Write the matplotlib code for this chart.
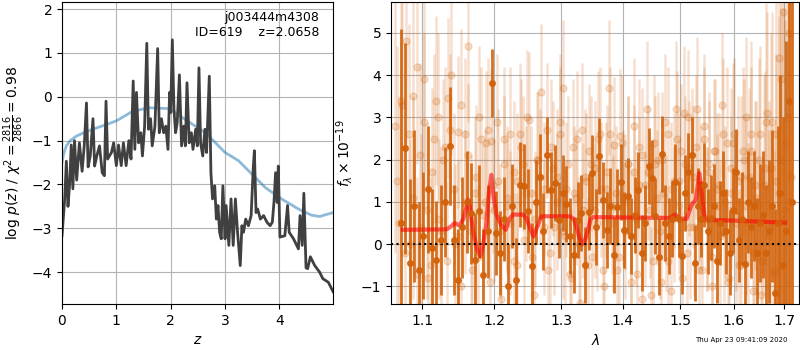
import numpy as np
import matplotlib.pyplot as plt
from matplotlib.ticker import FixedLocator, FormatStrFormatter, NullLocator

# p(z) from the redshift fit
z_grid = [0.0, 0.05, 0.08, 0.11, 0.14, 0.17, 0.2, 0.23, 0.27, 0.32, 0.37, 0.41, 0.45, 0.48,
          0.52, 0.57, 0.6, 0.64, 0.69, 0.74, 0.78, 0.81, 0.84, 0.91, 0.95, 1.0, 1.04, 1.09,
          1.13, 1.18, 1.23, 1.27, 1.31, 1.34, 1.37, 1.41, 1.45, 1.48, 1.52, 1.56, 1.59, 1.63,
          1.66, 1.71, 1.76, 1.79, 1.83, 1.87, 1.91, 1.95, 1.98, 2.0, 2.03, 2.06, 2.09, 2.12,
          2.16, 2.2, 2.24, 2.27, 2.3, 2.34, 2.38, 2.41, 2.46, 2.49, 2.52, 2.55, 2.59, 2.63,
          2.66, 2.71, 2.74, 2.77, 2.81, 2.84, 2.87, 2.9, 2.93, 2.96, 3.0, 3.02, 3.07, 3.11,
          3.15, 3.19, 3.23, 3.28, 3.31, 3.34, 3.38, 3.43, 3.48, 3.52, 3.54, 3.57, 3.6, 3.65,
          3.71, 3.77, 3.83, 3.87, 3.9, 3.93, 3.96, 3.98, 4.01, 4.1, 4.15, 4.18, 4.26, 4.35,
          4.38, 4.42, 4.45, 4.49, 4.52, 4.57, 4.65, 4.74, 4.8, 4.9, 4.99]
logpz = [-3.17, -2.33, -1.47, -2.5, -2.0, -1.1, -2.1, -1.0, -1.9, -1.05, -1.7, -1.1, -0.14, -1.6,
         -1.35, -0.5, -1.58, -1.35, -1.12, -1.73, -1.8, -0.1, -1.42, -1.27, -1.05, -1.57, -1.1, -1.57,
         -1.05, -1.57, -1.0, -1.42, 0.36, -1.2, 0.1, -1.05, -0.82, -1.35, -0.67, 1.22, -0.74, -0.5,
         -1.12, -0.67, 1.1, -0.82, -0.5, -0.82, -0.67, -1.2, 0.1, -0.36, 1.3, -0.29, -0.82, -0.59,
         0.5, -1.12, -0.67, -1.12, 0.32, -1.05, -0.82, -1.2, -0.74, -1.12, 0.66, -1.05, -1.35, -0.74,
         -1.27, 0.47, -1.73, -2.33, -2.03, -2.79, -2.48, -3.09, -3.24, -2.03, -3.24, -2.48, -3.39, -2.33,
         -3.39, -2.33, -3.09, -3.85, -2.94, -3.09, -2.79, -2.94, -2.71, -1.6, -1.23, -2.64, -2.56, -2.79,
         -2.71, -2.86, -2.94, -2.86, -2.41, -1.73, -2.41, -1.58, -3.2, -3.17, -2.48, -3.09, -3.24, -3.47,
         -2.71, -3.39, -2.2, -3.9, -3.92, -3.65, -3.85, -4.0, -4.15, -4.23, -4.45]

# smoothed photometric-only p(z)
z_smooth = [0.0, 0.03, 0.08, 0.15, 0.26, 0.4, 0.57, 0.8, 1.0, 1.3, 1.6, 1.97, 2.27, 2.64, 3.0,
            3.25, 3.5, 3.74, 4.04, 4.35, 4.59, 4.74, 4.99]
logpz_smooth = [-1.5, -1.3, -1.12, -1.0, -0.9, -0.82, -0.74, -0.64, -0.55, -0.33, -0.25, -0.27,
                -0.52, -0.82, -1.27, -1.46, -1.77, -2.07, -2.33, -2.56, -2.7, -2.73, -2.64]

# 1D spectrum, combined (dark)
lam_dark = np.linspace(1.072, 1.716, 110)
flux_dark = [0.5, 2.27, -0.45, 0.9, -0.6, 0.2, 1.3, -0.1, -0.37, 0.1,
             1.0, 2.33, 0.1, -0.85, 0.4, 1.0, 0.73, -0.37, 0.78, -0.73,
             0.3, 3.81, 0.26, -0.21, 0.6, -0.99, 0.9, -0.85, 1.41, 1.37,
             0.79, -0.51, 1.0, 1.6, 0.3, 2.1, 1.29, 1.45, 0.58, 1.21,
             0.95, 0.2, -0.25, 0.58, 0.73, -0.5, 0.77, 1.68, 0.4, 2.08,
             1.05, 0.34, 0.9, -0.25, 0.89, 1.48, 0.34, 1.13, 0.2, 0.7,
             1.29, -0.21, 0.5, 1.84, 1.56, 0.66, -0.3, 2.13, 0.5, 0.2,
             0.6, 1.46, 0.6, -0.29, 1.2, 1.72, 2.1, -0.45, 0.9, 0.6,
             1.4, 0.3, 0.63, 0.9, -0.4, 0.5, 1.2, 0.3, -0.2, 0.8,
             1.72, 0.1, 0.6, -0.48, 1.0, 0.4, 0.9, -0.2, 0.5, 0.7,
             -0.2, 0.3, 0.9, -1.16, 0.5, 1.2, -0.5, 0.3, 3.4, 1.0]
err_dark = [4.6, 2.5, 2.0, 1.8, 1.6, 1.5, 1.5, 1.4, 1.4, 1.3,
            1.3, 1.4, 1.3, 1.2, 1.2, 1.2, 1.2, 1.1, 1.1, 1.1,
            1.1, 0.8, 1.0, 1.0, 1.0, 1.0, 1.0, 1.0, 1.0, 1.0,
            1.0, 1.0, 1.0, 1.0, 0.9, 0.9, 0.9, 0.9, 0.9, 0.9,
            0.9, 0.9, 0.9, 0.9, 0.9, 0.9, 0.9, 0.9, 0.9, 0.9,
            0.9, 0.9, 0.9, 0.9, 0.9, 0.9, 0.9, 0.9, 0.9, 0.9,
            0.9, 0.9, 0.9, 0.9, 0.9, 0.9, 0.9, 0.9, 0.9, 0.9,
            0.9, 0.9, 0.9, 0.9, 0.9, 0.9, 0.9, 0.9, 0.9, 0.9,
            1.0, 1.0, 1.0, 1.0, 1.0, 1.0, 1.0, 1.0, 1.0, 1.0,
            1.0, 1.0, 1.1, 1.1, 1.2, 1.2, 1.3, 1.3, 1.4, 1.5,
            1.6, 1.7, 1.8, 2.0, 2.3, 2.8, 3.5, 4.5, 6.0, 7.0]

# individual beams (light)
lam_beam_a = np.linspace(1.065, 1.712, 140)
flux_beam_a = [2.8, 0.5, 3.3, 4.8, 0.0, 3.5, -0.7, 2.1, 3.9, 0.8,
               -0.5, 2.5, 3.0, 0.3, 2.3, 3.45, 4.0, 0.0, 2.65, -1.0,
               2.6, 4.7, 0.3, 1.2, -0.3, 2.5, 1.0, 2.7, 2.45, 0.8,
               1.5, -1.3, 2.5, 1.1, 0.5, 1.7, -0.5, 2.6, 1.9, 1.2,
               2.95, -0.3, 0.6, 2.0, 3.6, 1.3, -0.6, 2.3, 0.4, 1.6,
               2.6, 3.7, 0.2, 1.9, -0.8, 1.2, 2.5, -1.4, 0.8, 1.5,
               2.2, -0.3, 1.8, 0.5, 2.6, -0.6, 1.3, 3.7, 0.9, 2.35,
               -0.6, 2.55, 1.1, 0.3, 1.9, -0.9, 1.7, 0.6, 2.3, -1.3,
               1.4, 3.2, 0.8, -0.4, 1.9, 2.0, -0.9, 1.2, 0.5, 2.6,
               -1.1, 1.5, 3.2, 0.9, 2.2, 3.1, -0.2, 1.8, 2.1, 0.4,
               3.2, 1.3, -0.6, 2.5, 0.6, 1.9, -1.0, 2.2, 0.9, 1.4,
               3.3, 0.3, 2.4, -0.8, 1.2, 2.6, 0.7, -0.5, 1.6, 2.0,
               3.0, 0.5, 2.2, -1.1, 1.4, 0.9, 2.6, -0.4, 1.8, 3.1,
               0.2, 2.9, -0.6, 1.5, 4.4, 2.0, 5.5, 0.8, 3.0, 1.0]
err_beam_a = [3.0, 3.0, 2.8, 2.6, 2.5, 2.4, 2.3, 2.2, 2.2, 2.1,
              2.1, 2.0, 2.0, 2.0, 1.9, 1.9, 1.9, 1.9, 1.8, 1.8,
              1.8, 1.8, 1.8, 1.8, 1.7, 1.7, 1.7, 1.7, 1.7, 1.7,
              1.7, 1.7, 1.7, 1.7, 1.7, 1.7, 1.7, 1.7, 1.6, 1.6,
              1.6, 1.6, 1.6, 1.6, 1.6, 1.6, 1.6, 1.6, 1.6, 1.6,
              1.6, 1.6, 1.6, 1.6, 1.6, 1.6, 1.6, 1.6, 1.6, 1.6,
              1.6, 1.6, 1.6, 1.6, 1.6, 1.6, 1.6, 1.6, 1.6, 1.6,
              1.6, 1.6, 1.6, 1.6, 1.6, 1.6, 1.6, 1.6, 1.6, 1.6,
              1.6, 1.6, 1.6, 1.6, 1.6, 1.6, 1.6, 1.6, 1.6, 1.6,
              1.6, 1.6, 1.6, 1.6, 1.6, 1.6, 1.6, 1.6, 1.6, 1.6,
              1.7, 1.7, 1.7, 1.7, 1.7, 1.7, 1.7, 1.7, 1.7, 1.7,
              1.7, 1.7, 1.8, 1.8, 1.8, 1.8, 1.8, 1.8, 1.9, 1.9,
              1.9, 1.9, 2.0, 2.0, 2.0, 2.1, 2.1, 2.2, 2.3, 2.4,
              2.5, 2.6, 2.8, 3.0, 3.3, 3.6, 4.0, 4.5, 5.0, 5.5]

lam_beam_b = np.linspace(1.068, 1.714, 130)
flux_beam_b = [1.5, 3.4, -0.2, 2.6, 1.1, 4.2, 0.4, 2.9, -0.8, 1.7,
               3.4, 0.6, 2.0, -0.4, 2.7, 1.3, 0.2, 3.3, 1.0, 2.1,
               -0.6, 1.6, 3.0, 0.7, 2.4, -0.9, 1.4, 2.9, 0.3, 1.9,
               0.9, 2.6, -0.4, 1.5, 2.3, 0.1, 3.0, 1.2, -1.2, 2.0,
               1.6, 0.4, 2.7, -0.2, 1.8, 1.0, 2.9, 0.3, 1.3, -0.7,
               2.3, 1.1, 0.0, 2.7, 1.6, -0.5, 1.9, 0.8, 2.5, 1.3,
               -1.0, 1.7, 2.6, 0.5, 1.2, -0.3, 2.4, 1.0, 1.9, 0.2,
               2.8, -0.7, 1.4, 2.1, 0.6, 1.7, -1.2, 2.4, 1.1, 0.3,
               2.0, 2.9, -0.4, 1.3, 0.7, 2.5, 1.5, -0.8, 1.9, 3.0,
               0.4, 1.6, 2.3, -0.6, 1.1, 2.8, 0.6, 1.7, -0.3, 2.2,
               1.3, 0.2, 2.6, 1.0, -0.9, 1.8, 2.4, 0.5, 1.5, -0.5,
               2.2, 0.9, 1.6, 2.6, -0.2, 1.1, 2.0, -1.2, 1.4, 2.9,
               0.4, 1.8, -0.7, 2.6, 1.2, 3.9, 0.6, 2.4, 5.0, 1.6]
err_beam_b = [3.2, 3.0, 2.8, 2.6, 2.4, 2.3, 2.2, 2.1, 2.1, 2.0,
              2.0, 1.9, 1.9, 1.9, 1.8, 1.8, 1.8, 1.8, 1.7, 1.7,
              1.7, 1.7, 1.7, 1.7, 1.7, 1.7, 1.6, 1.6, 1.6, 1.6,
              1.6, 1.6, 1.6, 1.6, 1.6, 1.6, 1.6, 1.6, 1.6, 1.6,
              1.6, 1.6, 1.6, 1.6, 1.6, 1.6, 1.6, 1.6, 1.6, 1.6,
              1.6, 1.6, 1.6, 1.6, 1.6, 1.6, 1.6, 1.6, 1.6, 1.6,
              1.6, 1.6, 1.6, 1.6, 1.6, 1.6, 1.6, 1.6, 1.6, 1.6,
              1.6, 1.6, 1.6, 1.6, 1.6, 1.6, 1.6, 1.6, 1.6, 1.6,
              1.6, 1.6, 1.6, 1.6, 1.6, 1.6, 1.6, 1.6, 1.6, 1.6,
              1.7, 1.7, 1.7, 1.7, 1.7, 1.7, 1.7, 1.7, 1.7, 1.7,
              1.8, 1.8, 1.8, 1.8, 1.8, 1.9, 1.9, 1.9, 2.0, 2.0,
              2.0, 2.1, 2.1, 2.2, 2.2, 2.3, 2.4, 2.5, 2.6, 2.8,
              3.0, 3.2, 3.5, 3.8, 4.2, 4.6, 5.0, 5.5, 6.0, 6.5]

# best-fit model
lam_model = [1.075, 1.133, 1.139, 1.144, 1.151, 1.156, 1.160, 1.1627, 1.166, 1.1697,
             1.175, 1.180, 1.184, 1.1885, 1.192, 1.1957, 1.199, 1.203, 1.210, 1.2165,
             1.222, 1.2273, 1.242, 1.247, 1.252, 1.2578, 1.263, 1.2699, 1.3139, 1.320,
             1.3245, 1.329, 1.3335, 1.338, 1.3432, 1.347, 1.3514, 1.482, 1.491, 1.500,
             1.512, 1.521, 1.5286, 1.532, 1.535, 1.538, 1.542, 1.545, 1.548, 1.592, 1.702]
flux_model = [0.34, 0.35, 0.42, 0.5, 0.44, 0.6, 0.85, 1.05, 0.8, 0.3,
              -0.1, -0.29, 0.0, 0.5, 1.2, 1.64, 1.1, 0.7, 0.45, 0.34,
              0.6, 0.7, 0.7, 0.62, 0.4, 0.18, 0.4, 0.66, 0.66, 0.6,
              0.42, 0.15, 0.0, 0.1, 0.35, 0.58, 0.64, 0.62, 0.7, 0.6,
              0.6, 0.93, 1.05, 1.35, 1.68, 1.4, 0.9, 0.65, 0.58, 0.56, 0.51]

dark = '#d2620a'

fig = plt.figure(figsize=(8, 3.5), dpi=100)
ax1 = fig.add_axes([0.0775, 0.131, 0.339, 0.863])
ax2 = fig.add_axes([0.489, 0.131, 0.510, 0.863])

ax1.plot(z_smooth, logpz_smooth, color='#1f77b4', alpha=0.5, lw=2)
ax1.plot(z_grid, logpz, color='0.25', lw=2)
ax1.set_xlim(0, 4.99)
ax1.set_ylim(-4.73, 2.16)
ax1.set_xticks([0, 1, 2, 3, 4])
ax1.grid(color='0.7')
ax1.set_xlabel(r'$z$')
ax1.set_ylabel(r'$\log\,p(z)$ / $\chi^2=\frac{2816}{2866}=0.98$')
ax1.text(0.95, 0.97, 'j003444m4308\nID=619    z=2.0658', transform=ax1.transAxes,
         ha='right', va='top', fontsize=9)

for lam, flux, err in [(lam_beam_a, flux_beam_a, err_beam_a),
                       (lam_beam_b, flux_beam_b, err_beam_b)]:
    ax2.errorbar(lam, flux, yerr=err, color=dark, alpha=0.2, marker='o',
                 ms=5, linestyle='none', elinewidth=1.8)
ax2.errorbar(lam_dark, flux_dark, yerr=err_dark, color=dark, alpha=0.9, marker='o',
             ms=4, linestyle='none', elinewidth=2)
ax2.plot(lam_model, flux_model, color='r', alpha=0.6, lw=3)
ax2.axhline(0, color='k', linestyle=':', lw=1.5)
ax2.set_xscale('log')
ax2.set_xlim(1.060, 1.731)
ax2.set_ylim(-1.42, 5.73)
ax2.xaxis.set_major_locator(FixedLocator([1.1, 1.2, 1.3, 1.4, 1.5, 1.6, 1.7]))
ax2.xaxis.set_major_formatter(FormatStrFormatter('%.1f'))
ax2.xaxis.set_minor_locator(NullLocator())
ax2.grid(color='0.7')
ax2.set_xlabel(r'$\lambda$')
ax2.set_ylabel(r'$f_\lambda\times10^{-19}$')

fig.text(0.985, 0.02, 'Thu Apr 23 09:41:09 2020', ha='right', va='bottom', fontsize=5)

fig.savefig('out.png', dpi=100)
